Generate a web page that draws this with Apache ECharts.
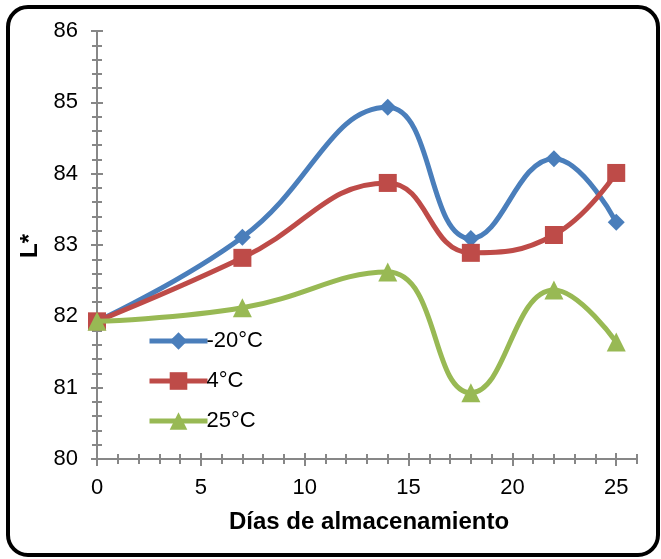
<!DOCTYPE html>
<html>
<head>
<meta charset="utf-8">
<script src="https://cdn.jsdelivr.net/npm/echarts@6/dist/echarts.min.js"></script>
<style>
  html, body { margin: 0; padding: 0; background: #fff; }
  #chart { width: 661px; height: 559px; }
</style>
</head>
<body>
<div id="chart"></div>
<script>
// Storage days and L* readings per storage temperature
const days = [0, 7, 14, 18, 22, 25];
const seriesNames = ['-20°C', '4°C', '25°C'];
const lMinus20 = [81.93, 83.11, 84.93, 83.09, 84.21, 83.32];
const l4 = [81.93, 82.82, 83.87, 82.89, 83.14, 84.01];
const l25 = [81.93, 82.12, 82.62, 80.93, 82.37, 81.64];

// Axis tick positions
const xMajorTicks = [0, 5, 10, 15, 20, 25];
const xMinorTicks = Array.from({ length: 27 }, (_, i) => i);

const FONT = "'Liberation Sans Narrow', 'Arial Narrow', 'Liberation Sans', Arial, sans-serif";
const AXIS_GREY = '#878787';

function pairs(ys) { return days.map((d, i) => [d, ys[i]]); }

function xAxisDef(inside, ticks, len, showLabels) {
  return {
    type: 'value', min: 0, max: 26, gridIndex: 0, position: 'bottom',
    axisLine: { show: true, onZero: false, lineStyle: { color: AXIS_GREY, width: 2 } },
    axisTick: { show: true, inside: inside, length: len, customValues: ticks,
                lineStyle: { color: AXIS_GREY, width: 2 } },
    axisLabel: showLabels ? { show: true, customValues: xMajorTicks, margin: 18,
                color: '#000', fontSize: 22, fontFamily: FONT } : { show: false },
    splitLine: { show: false }
  };
}

function yAxisDef(inside, withLabels) {
  return {
    type: 'value', min: 80, max: 86, interval: 1, position: 'left',
    axisLine: { show: true, onZero: false, lineStyle: { color: AXIS_GREY, width: 2 } },
    axisTick: { show: true, inside: inside, length: 6, lineStyle: { color: AXIS_GREY, width: 2 } },
    minorTick: { show: true, splitNumber: 5, length: 5, lineStyle: { color: AXIS_GREY, width: 2 } },
    axisLabel: withLabels ? { show: true, margin: 19, color: '#000', fontSize: 22, fontFamily: FONT }
                          : { show: false },
    splitLine: { show: false },
    minorSplitLine: { show: false }
  };
}

const colors = ['#4A7EBB', '#BE4B48', '#98B954'];
const symbols = ['diamond', 'rect', 'triangle'];
const symbolSizes = [17, 18, 19];
const values = [lMinus20, l4, l25];

const chart = echarts.init(document.getElementById('chart'), null, { renderer: 'canvas' });
chart.setOption({
  animation: false,
  backgroundColor: '#fff',
  grid: { left: 97, right: 24, top: 31, bottom: 100, containLabel: false },
  xAxis: [
    xAxisDef(false, xMinorTicks, 5, true),
    xAxisDef(true, xMinorTicks, 5, false),
    xAxisDef(false, xMajorTicks, 7, false),
    xAxisDef(true, xMajorTicks, 6, false)
  ],
  yAxis: [yAxisDef(false, true), yAxisDef(true, false)],
  legend: {
    orient: 'vertical', left: 142, top: 325, itemGap: 18,
    itemWidth: 58, itemHeight: 22,
    lineStyle: { width: 5 },
    textStyle: { color: '#000', fontSize: 22, fontFamily: FONT, padding: [0, 0, 0, -6] },
    data: seriesNames
  },
  series: values.map((v, i) => ({
    name: seriesNames[i], type: 'line', xAxisIndex: 0, yAxisIndex: 0,
    data: pairs(v), smooth: 0.45,
    symbol: symbols[i], symbolSize: symbolSizes[i],
    lineStyle: { color: colors[i], width: 5 },
    itemStyle: { color: colors[i] },
    z: 3 + i
  })),
  graphic: [
    { type: 'rect', shape: { x: 8, y: 7, width: 650, height: 548, r: 20 },
      style: { fill: 'none', stroke: '#000', lineWidth: 4 }, z: 100 },
    { type: 'text', x: 229, y: 510,
      style: { text: 'Días de almacenamiento', fill: '#000', font: "bold 24px " + FONT } },
    { type: 'text', x: 18, y: 258, rotation: Math.PI / 2,
      style: { text: 'L*', fill: '#000', font: "bold 24px " + FONT } }
  ]
});
</script>
</body>
</html>
